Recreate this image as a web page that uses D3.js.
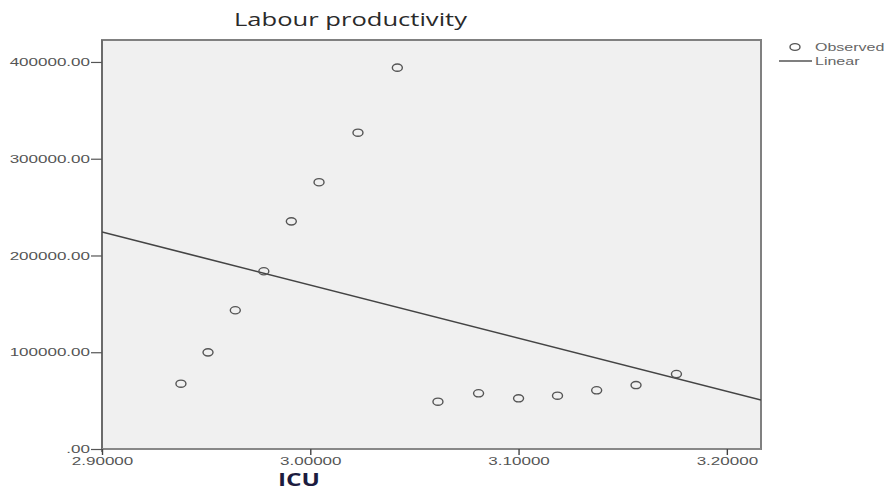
<!DOCTYPE html>
<html>
<head>
<meta charset="utf-8">
<script src="https://cdn.jsdelivr.net/npm/d3@7"></script>
<style>
  html, body { margin: 0; padding: 0; background: #ffffff; }
  svg { display: block; }
</style>
</head>
<body>
<svg id="chart" width="891" height="490"></svg>
<script>
// ---- data ----
const icu = [2.9379, 2.9509, 2.9640, 2.9777, 2.9909, 3.0042, 3.0229, 3.0418,
             3.0613, 3.0808, 3.1000, 3.1187, 3.1375, 3.1564, 3.1758];
const productivity = [67500, 99900, 143400, 183700, 235300, 275700, 326900, 394100,
                      48900, 57600, 52400, 55100, 60700, 66100, 77500];
const linearX = [2.9, 3.2164];
const linearY = [224300, 50600];
const yTicks = [0, 100000, 200000, 300000, 400000];
const yTickLabels = [".00", "100000.00", "200000.00", "300000.00", "400000.00"];
const xTicks = [2.9, 3.0, 3.1, 3.2];
const xTickLabels = ["2.90000", "3.00000", "3.10000", "3.20000"];
const titleText = "Labour productivity";
const xTitle = "ICU";
const legendLabels = ["Observed", "Linear"];

// ---- layout ----
const svg = d3.select("#chart");
const pLeft = 102, pRight = 761, pTop = 40, pBottom = 449;
const x = d3.scaleLinear().domain([2.9, 3.2164]).range([pLeft, pRight]);
const y = d3.scaleLinear().domain([0, 422700]).range([pBottom, pTop]);
const STRETCH = 1.7;

function stretch(sel, factor) {
  sel.each(function() {
    const w = this.getComputedTextLength();
    d3.select(this).attr("textLength", w * factor).attr("lengthAdjust", "spacingAndGlyphs");
  });
}

// plot background
svg.append("rect")
  .attr("x", pLeft).attr("y", pTop)
  .attr("width", pRight - pLeft).attr("height", pBottom - pTop)
  .attr("fill", "#f0f0f0")
  .attr("stroke", "#808080").attr("stroke-width", 2);

// y axis
const yAxis = svg.append("g")
  .attr("transform", `translate(${pLeft},0)`)
  .call(d3.axisLeft(y).tickValues(yTicks)
        .tickFormat((d, i) => yTickLabels[i]).tickSize(11).tickPadding(1).tickSizeOuter(0));
yAxis.select(".domain").attr("stroke", "#666").attr("stroke-width", 1.6)
  .attr("d", `M0,${pTop}V${pBottom + 3}`);
yAxis.selectAll(".tick line").attr("stroke", "#555").attr("stroke-width", 1.2);
yAxis.selectAll(".tick text")
  .attr("font-family", "'Liberation Sans', Arial, sans-serif")
  .attr("font-size", 10).attr("fill", "#555").attr("dy", "0.36em");
stretch(yAxis.selectAll(".tick text"), STRETCH);

// x axis
const xAxis = svg.append("g")
  .attr("transform", `translate(0,${pBottom})`)
  .call(d3.axisBottom(x).tickValues(xTicks)
        .tickFormat((d, i) => xTickLabels[i]).tickSize(6).tickPadding(3).tickSizeOuter(0));
xAxis.select(".domain").attr("stroke", "#888").attr("stroke-width", 2)
  .attr("d", `M${pLeft},0H${pRight}`);
xAxis.selectAll(".tick line").attr("stroke", "#444").attr("stroke-width", 1.4);
xAxis.selectAll(".tick text")
  .attr("font-family", "'Liberation Sans', Arial, sans-serif")
  .attr("font-size", 10).attr("fill", "#555");
stretch(xAxis.selectAll(".tick text"), STRETCH);

// fit line
const clipId = "plotclip";
svg.append("clipPath").attr("id", clipId)
  .append("rect").attr("x", pLeft).attr("y", pTop).attr("width", pRight - pLeft).attr("height", pBottom - pTop);
svg.append("path")
  .datum(linearX.map((v, i) => [v, linearY[i]]))
  .attr("clip-path", `url(#${clipId})`)
  .attr("d", d3.line().x(d => x(d[0])).y(d => y(d[1])))
  .attr("fill", "none").attr("stroke", "#444").attr("stroke-width", 1.6);

// observed points
svg.append("g").selectAll("ellipse")
  .data(icu.map((v, i) => [v, productivity[i]]))
  .join("ellipse")
  .attr("cx", d => x(d[0])).attr("cy", d => y(d[1]))
  .attr("rx", 5).attr("ry", 3.6)
  .attr("fill", "none").attr("stroke", "#555").attr("stroke-width", 1.4);

// title
svg.append("text")
  .attr("x", 234).attr("y", 26)
  .attr("font-family", "'Open Sans', sans-serif").attr("font-size", 18)
  .attr("fill", "#2a2a2a")
  .attr("textLength", 233).attr("lengthAdjust", "spacingAndGlyphs")
  .text(titleText);

// x axis title
svg.append("text")
  .attr("x", 278).attr("y", 486)
  .attr("font-family", "'Open Sans', sans-serif").attr("font-size", 17)
  .attr("font-weight", "bold").attr("fill", "#1c1c40")
  .attr("textLength", 42).attr("lengthAdjust", "spacingAndGlyphs")
  .text(xTitle);

// legend
const lg = svg.append("g");
lg.append("ellipse").attr("cx", 795).attr("cy", 47).attr("rx", 5).attr("ry", 3.4)
  .attr("fill", "none").attr("stroke", "#555").attr("stroke-width", 1.4);
lg.append("line").attr("x1", 779).attr("x2", 812).attr("y1", 61).attr("y2", 61)
  .attr("stroke", "#555").attr("stroke-width", 1.6);
const lt = lg.selectAll("text.leg").data(legendLabels).join("text")
  .attr("class", "leg")
  .attr("x", 815).attr("y", (d, i) => 50.5 + i * 14)
  .attr("font-family", "'Liberation Sans', Arial, sans-serif")
  .attr("font-size", 10).attr("fill", "#666")
  .text(d => d);
stretch(lt, 1.6);
</script>
</body>
</html>
